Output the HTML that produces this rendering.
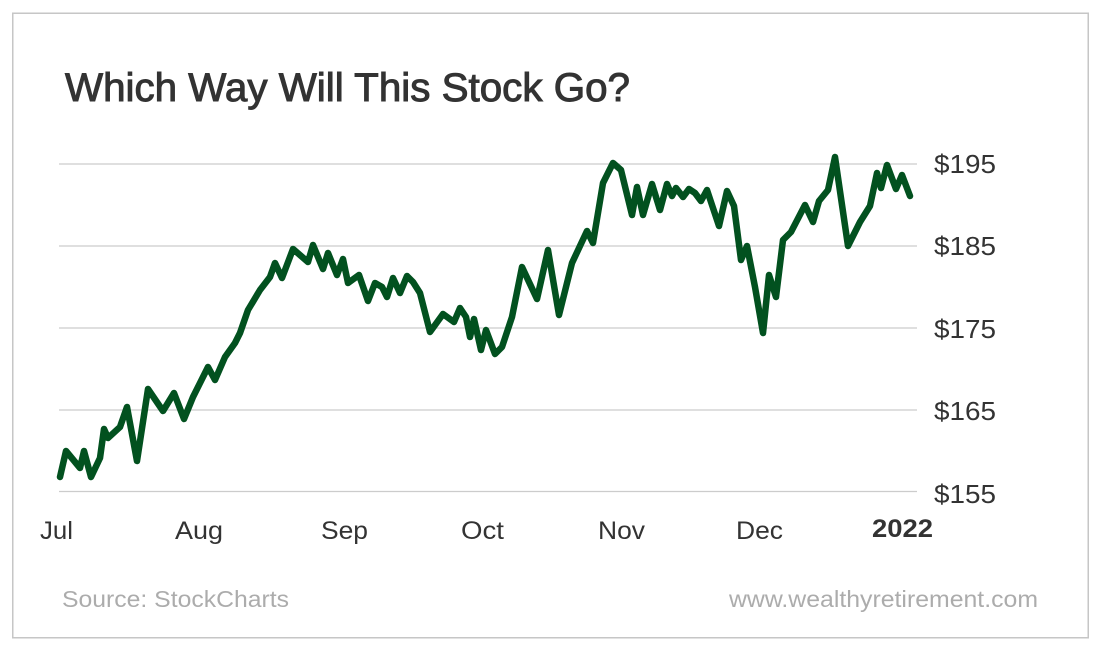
<!DOCTYPE html>
<html>
<head>
<meta charset="utf-8">
<style>
  html, body { margin: 0; padding: 0; background: #ffffff; }
  body { width: 1100px; height: 651px; overflow: hidden; }
  svg { display: block; }
  text { font-family: "Liberation Sans", Arial, sans-serif; }
</style>
</head>
<body>
<svg width="1100" height="651" viewBox="0 0 1100 651" xmlns="http://www.w3.org/2000/svg">
  <rect x="0" y="0" width="1100" height="651" fill="#ffffff"/>
  <!-- outer frame -->
  <rect x="12.75" y="13.25" width="1075.5" height="624.5" fill="none" stroke="#c6c6c6" stroke-width="1.5"/>

  <!-- title -->
  <text x="65" y="101" font-size="40" fill="#333333" stroke="#333333" stroke-width="1" textLength="565" lengthAdjust="spacingAndGlyphs">Which Way Will This Stock Go?</text>

  <!-- gridlines -->
  <g stroke="#cccccc" stroke-width="1.3">
    <line x1="59" y1="164" x2="917" y2="164"/>
    <line x1="59" y1="246" x2="917" y2="246"/>
    <line x1="59" y1="328" x2="917" y2="328"/>
    <line x1="59" y1="410" x2="917" y2="410"/>
    <line x1="59" y1="491.5" x2="917" y2="491.5"/>
  </g>

  <!-- y labels -->
  <g font-size="26" fill="#333333">
    <text x="934" y="173" textLength="62" lengthAdjust="spacingAndGlyphs">$195</text>
    <text x="934" y="255" textLength="62" lengthAdjust="spacingAndGlyphs">$185</text>
    <text x="934" y="338" textLength="62" lengthAdjust="spacingAndGlyphs">$175</text>
    <text x="934" y="420" textLength="62" lengthAdjust="spacingAndGlyphs">$165</text>
    <text x="934" y="503" textLength="62" lengthAdjust="spacingAndGlyphs">$155</text>
  </g>

  <!-- x labels -->
  <g font-size="25" fill="#333333">
    <text x="40" y="539" textLength="33" lengthAdjust="spacingAndGlyphs">Jul</text>
    <text x="175" y="539" textLength="48" lengthAdjust="spacingAndGlyphs">Aug</text>
    <text x="321" y="539" textLength="47" lengthAdjust="spacingAndGlyphs">Sep</text>
    <text x="461" y="539" textLength="43" lengthAdjust="spacingAndGlyphs">Oct</text>
    <text x="598" y="539" textLength="47" lengthAdjust="spacingAndGlyphs">Nov</text>
    <text x="736" y="539" textLength="47" lengthAdjust="spacingAndGlyphs">Dec</text>
    <text x="872" y="537" font-weight="bold" textLength="61" lengthAdjust="spacingAndGlyphs">2022</text>
  </g>

  <!-- footer -->
  <g font-size="23" fill="#acacac">
    <text x="62" y="607" textLength="227" lengthAdjust="spacingAndGlyphs">Source: StockCharts</text>
    <text x="729" y="607" textLength="309" lengthAdjust="spacingAndGlyphs">www.wealthyretirement.com</text>
  </g>

  <!-- price line -->
  <polyline fill="none" stroke="#02511f" stroke-width="6.5" stroke-linejoin="round" stroke-linecap="round"
    points="60,477 66,451 80,468 84,451 91,477 100,458 104,429 108,438 120,427 127,407 137,461 148,389 163,411 174,393 184,419 193,397 208,367 215,380 225,357 235,343 240,333 248,310 260,290 270,277 275,263 282,278 293,249 308,262 313,245 323,269 328,253 337,275 343,259 348,283 359,275 368,301 375,283 382,287 387,297 393,278 400,293 407,276 413,282 420,293 430,332 443,314 454,322 460,308 466,317 470,337 474,319 481,350 486,330 495,354 502,347 512,317 522,267 537,299 548,250 559,315 572,263 587,231 593,243 603,183 613,163 621,170 632,215 637,187 643,215 652,184 660,210 667,184 672,196 676,188 683,197 689,189 695,193 701,201 707,190 719,226 727,191 734,206 741,260 747,246 755,287 763,333 769,275 776,297 783,240 791,232 805,205 813,222 819,201 828,190 835,157 848,246 860,222 870,206 877,173 881,188 887,165 896,189 902,175 910,196"/>
</svg>
</body>
</html>
